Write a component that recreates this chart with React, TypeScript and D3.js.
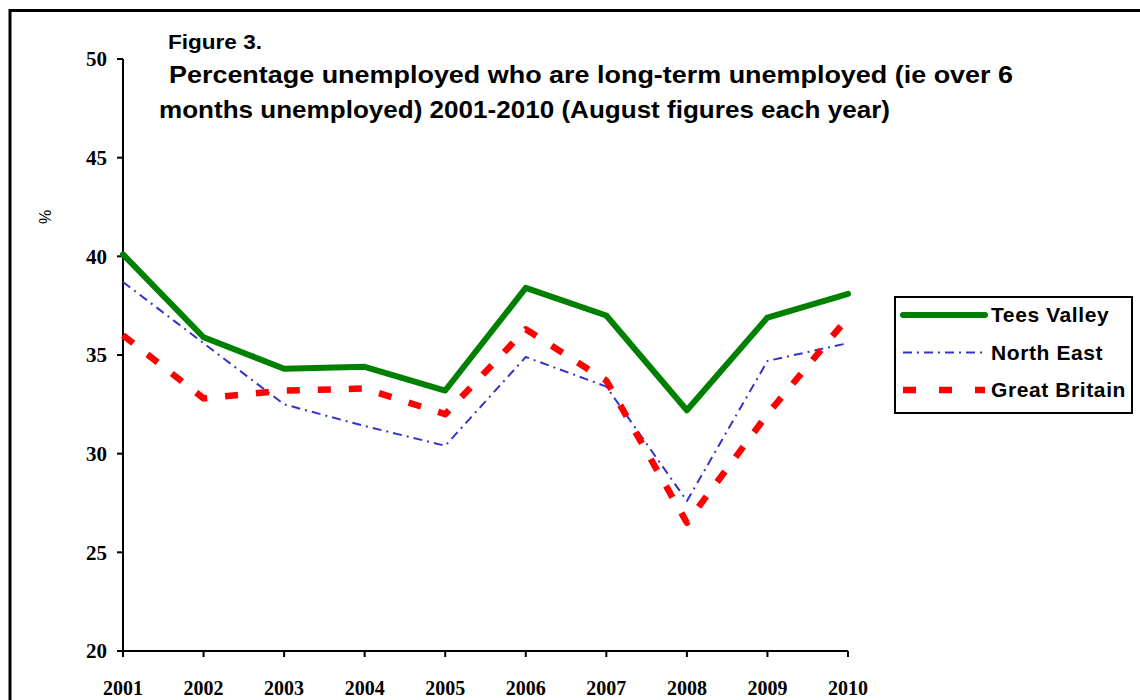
import * as d3 from 'd3';

const years = ['2001', '2002', '2003', '2004', '2005', '2006', '2007', '2008', '2009', '2010'];
const teesValley = [40.1, 35.9, 34.3, 34.4, 33.2, 38.4, 37.0, 32.2, 36.9, 38.1];
const northEast = [38.7, 35.6, 32.5, 31.4, 30.4, 34.9, 33.4, 27.6, 34.7, 35.6];
const greatBritain = [36.0, 32.8, 33.2, 33.3, 32.0, 36.3, 33.7, 26.5, 32.0, 36.9];
const yTicks = [20, 25, 30, 35, 40, 45, 50];

const series = [
  { name: 'Tees Valley', values: teesValley, color: '#008000', width: 6, dash: '' },
  { name: 'North East', values: northEast, color: '#3333cc', width: 2, dash: '9,5,2,5' },
  { name: 'Great Britain', values: greatBritain, color: '#ff0000', width: 6.5, dash: '13,18' },
];

const W = 1140;
const H = 700;
const plot = { left: 123, right: 848, top: 59, bottom: 651 };

export default function App() {
  const x = d3.scalePoint<string>().domain(years).range([plot.left, plot.right]);
  const y = d3.scaleLinear().domain([20, 50]).range([plot.bottom, plot.top]);

  const line = d3
    .line<number>()
    .x((_, i) => x(years[i]) as number)
    .y(d => y(d));

  const serif = '"Liberation Serif", "Times New Roman", serif';
  const sans = '"Liberation Sans", Arial, sans-serif';

  return (
    <svg
      width={W}
      height={H}
      style={{ position: 'absolute', left: 0, top: 0, background: '#fff' }}
    >
      {/* outer frame */}
      <rect x={10} y={10.5} width={W + 20} height={H + 20} fill="none" stroke="#000" strokeWidth={3} />

      {/* title */}
      <g fontFamily={sans} fontWeight="bold" fill="#000">
        <text x={168} y={49} fontSize={21} textLength={94} lengthAdjust="spacingAndGlyphs">
          Figure 3.
        </text>
        <text x={169} y={83} fontSize={24} textLength={844} lengthAdjust="spacingAndGlyphs">
          Percentage unemployed who are long-term unemployed (ie over 6
        </text>
        <text x={159} y={118} fontSize={24} textLength={731} lengthAdjust="spacingAndGlyphs">
          months unemployed) 2001-2010 (August figures each year)
        </text>
      </g>

      {/* y axis */}
      <line x1={plot.left} x2={plot.left} y1={plot.top} y2={plot.bottom} stroke="#000" strokeWidth={2} />
      {yTicks.map(t => (
        <g key={t}>
          <line x1={plot.left - 6} x2={plot.left} y1={y(t)} y2={y(t)} stroke="#000" strokeWidth={2} />
          <text
            x={107}
            y={y(t)}
            dy="0.35em"
            textAnchor="end"
            fontFamily={serif}
            fontWeight="bold"
            fontSize={21}
          >
            {t}
          </text>
        </g>
      ))}
      <text
        transform="translate(51,217) rotate(-90)"
        textAnchor="middle"
        fontFamily={sans}
        fontSize={16}
      >
        %
      </text>

      {/* x axis */}
      <line x1={plot.left} x2={plot.right} y1={plot.bottom} y2={plot.bottom} stroke="#000" strokeWidth={2} />
      {years.map(yr => (
        <g key={yr}>
          <line
            x1={x(yr)}
            x2={x(yr)}
            y1={plot.bottom}
            y2={plot.bottom + 6}
            stroke="#000"
            strokeWidth={2}
          />
          <text
            x={x(yr)}
            y={695}
            textAnchor="middle"
            fontFamily={serif}
            fontWeight="bold"
            fontSize={20}
          >
            {yr}
          </text>
        </g>
      ))}

      {/* series lines */}
      {series.map(s => (
        <path
          key={s.name}
          d={line(s.values) ?? ''}
          fill="none"
          stroke={s.color}
          strokeWidth={s.width}
          strokeDasharray={s.dash || undefined}
          strokeLinejoin="round"
          strokeLinecap={s.dash ? 'butt' : 'round'}
        />
      ))}

      {/* legend */}
      <rect x={895} y={297} width={237} height={116} fill="#fff" stroke="#000" strokeWidth={2} />
      {series.map((s, i) => {
        const ly = 315 + i * 37.5;
        return (
          <g key={s.name}>
            <line
              x1={903}
              x2={985}
              y1={ly}
              y2={ly}
              stroke={s.color}
              strokeWidth={s.width}
              strokeDasharray={s.dash ? (i === 2 ? '13,23' : '9,5,2,5') : undefined}
              strokeLinecap={s.dash ? 'butt' : 'round'}
            />
            <text
              x={991}
              y={ly}
              dy="0.35em"
              fontFamily={sans}
              fontWeight="bold"
              fontSize={21}
              letterSpacing={0.6}
            >
              {s.name}
            </text>
          </g>
        );
      })}
    </svg>
  );
}
